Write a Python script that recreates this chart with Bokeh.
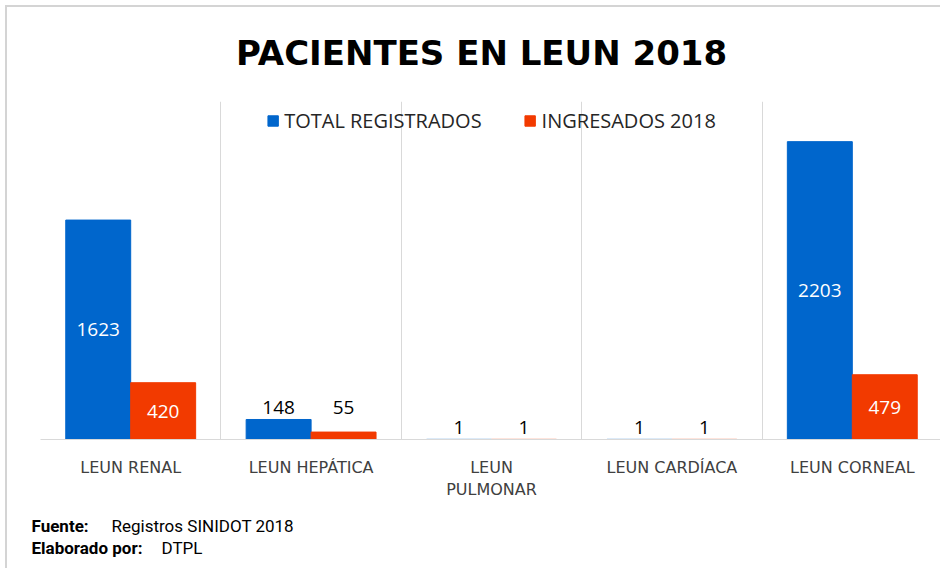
from bokeh.plotting import figure
from bokeh.models import (ColumnDataSource, Range1d, FixedTicker, LabelSet, Label)
from bokeh.core.properties import value
from bokeh.embed import file_html
from bokeh.resources import INLINE

# ---- data ----
categories = ["LEUN RENAL", "LEUN HEPÁTICA", "LEUN PULMONAR", "LEUN CARDÍACA", "LEUN CORNEAL"]
tick_labels = ["LEUN RENAL", "LEUN HEPÁTICA", "LEUN\nPULMONAR", "LEUN CARDÍACA", "LEUN CORNEAL"]
total_registrados = [1623, 148, 1, 1, 2203]
ingresados_2018 = [420, 55, 1, 1, 479]
series_names = ["TOTAL REGISTRADOS", "INGRESADOS 2018"]
title_text = "PACIENTES  EN LEUN 2018"

BLUE = "#0066CC"
ORANGE = "#F23A00"
GRID = "#D9D9D9"

n = len(categories)
centers = [i + 0.5 for i in range(n)]
bw = 0.36

p = figure(width=935, height=563, output_backend="svg", toolbar_location=None,
           x_range=Range1d(0, n), y_range=Range1d(0, 2500),
           min_border_left=33, min_border_right=0, min_border_top=94, min_border_bottom=131,
           styles={"border-top": "2px solid #d4d4d4", "border-left": "2px solid #d4d4d4",
                   "margin-left": "5px", "margin-top": "5px"})
p.outline_line_color = None
p.background_fill_color = "white"
p.border_fill_color = "white"

src_t = ColumnDataSource(dict(x=[c - bw / 2 for c in centers], top=total_registrados))
src_i = ColumnDataSource(dict(x=[c + bw / 2 for c in centers], top=ingresados_2018))
p.vbar(x="x", top="top", width=bw, source=src_t, color=BLUE, legend_label=series_names[0])
p.vbar(x="x", top="top", width=bw, source=src_i, color=ORANGE, legend_label=series_names[1])

# data labels
lx, ly, lt, lc, lb = [], [], [], [], []
for i in range(n):
    pair_max = max(total_registrados[i], ingresados_2018[i])
    for off, v in ((-bw / 2, total_registrados[i]), (bw / 2, ingresados_2018[i])):
        lx.append(centers[i] + off)
        lt.append(str(v))
        if v > 300:
            ly.append(v / 2)
            lc.append("white")
            lb.append(0)
        else:
            ly.append(pair_max)
            lc.append("black")
            lb.append(12)
lsrc = ColumnDataSource(dict(x=lx, y=ly, text=lt, color=lc, off=lb))
p.add_layout(LabelSet(x="x", y="y", text="text", source=lsrc, text_color="color",
                      y_offset="off", text_align="center", text_baseline="middle",
                      text_font=value("Open Sans"), text_font_size=value("19px")))

# axes
p.yaxis.visible = False
p.ygrid.visible = False
p.xaxis.ticker = FixedTicker(ticks=centers)
p.xaxis.major_label_overrides = {c: t for c, t in zip(centers, tick_labels)}
p.xaxis.axis_line_color = GRID
p.xaxis.major_tick_line_color = None
p.xaxis.minor_tick_line_color = None
p.xaxis.major_tick_out = 0
p.xaxis.major_tick_in = 0
p.xaxis.major_label_standoff = 18
p.xaxis.major_label_text_font = "DejaVu Sans"
p.xaxis.major_label_text_font_size = "16px"
p.xaxis.major_label_text_color = "#404040"
p.xgrid.ticker = FixedTicker(ticks=list(range(n)))
p.xgrid.grid_line_color = GRID

# legend
lg = p.legend[0]
lg.location = "top_center"
lg.orientation = "horizontal"
lg.background_fill_alpha = 0
lg.border_line_alpha = 0
lg.glyph_width = 13
lg.glyph_height = 13
lg.label_text_font = "Open Sans"
lg.label_text_font_size = "20px"
lg.label_text_color = "#262626"
lg.label_standoff = 5
lg.spacing = 42
lg.padding = 0
lg.margin = 6

# title and footer (canvas units, placed in side panels so they are not clipped)
p.add_layout(Label(x=478, y=43, x_units="canvas", y_units="canvas", text=title_text,
                   text_align="center", text_baseline="middle", text_font="DejaVu Sans",
                   text_font_style="bold", text_font_size="34px", text_color="black"), "above")
foot = [(22, 516, "Fuente:", "bold", "above"), (102, 516, "Registros SINIDOT 2018", "normal", "above"),
        (22, 538, "Elaborado por:", "bold", "below"), (152, 538, "DTPL", "normal", "below")]
for fx, fy, ft, fs, side in foot:
    p.add_layout(Label(x=fx, y=fy, x_units="canvas", y_units="canvas", text=ft,
                       text_align="left", text_baseline="middle", text_font="Roboto",
                       text_font_style=fs, text_font_size="17px", text_color="black"), side)

open("out.html", "w").write(file_html(p, INLINE))
